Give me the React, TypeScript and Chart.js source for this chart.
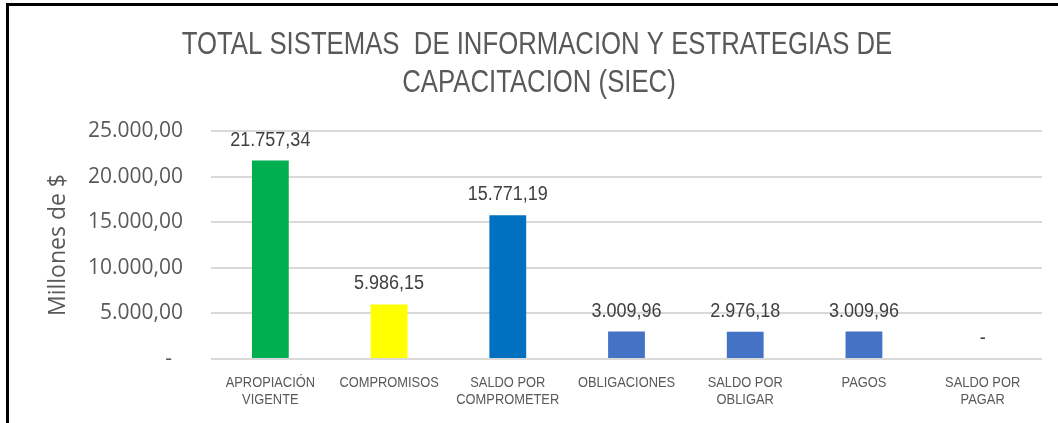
import React, { useEffect, useRef } from "react";
import { Chart, registerables } from "chart.js";

Chart.register(...registerables);

const titleLines = ["TOTAL SISTEMAS  DE INFORMACION Y ESTRATEGIAS DE", "CAPACITACION (SIEC)"];
const categories = [
  ["APROPIACIÓN", "VIGENTE"],
  ["COMPROMISOS"],
  ["SALDO POR", "COMPROMETER"],
  ["OBLIGACIONES"],
  ["SALDO POR", "OBLIGAR"],
  ["PAGOS"],
  ["SALDO POR", "PAGAR"],
];
const values = [21757.34, 5986.15, 15771.19, 3009.96, 2976.18, 3009.96, 0];
const barColors = ["#00B050", "#FFFF00", "#0070C0", "#4472C4", "#4472C4", "#4472C4", "#4472C4"];
const yAxisTitle = "Millones de $";
const yMax = 25000;
const yStep = 5000;

const SANS = "'Liberation Sans', Arial, sans-serif";
const TEXT = "#595959";

function fmt(v: number): string {
  const fixed = Math.abs(v).toFixed(2);
  const [intPart, dec] = fixed.split(".");
  const withDots = intPart.replace(/\B(?=(\d{3})+(?!\d))/g, ".");
  return (v < 0 ? "-" : "") + withDots + "," + dec;
}

function narrowText(ctx: CanvasRenderingContext2D, text: string, x: number, y: number, k: number) {
  ctx.save();
  ctx.translate(x, y);
  ctx.scale(k, 1);
  ctx.fillText(text, 0, 0);
  ctx.restore();
}

const framePlugin = {
  id: "frame",
  beforeDraw(chart: any) {
    const { ctx, width, height } = chart;
    ctx.save();
    ctx.fillStyle = "#ffffff";
    ctx.fillRect(0, 0, width, height);
    ctx.fillStyle = "#000000";
    ctx.fillRect(6, 3, width - 6, 3);
    ctx.fillRect(6, 3, 3, height - 3);
    ctx.restore();
  },
};

const textPlugin = {
  id: "texts",
  afterDatasetsDraw(chart: any) {
    const { ctx } = chart;
    ctx.save();
    // title
    ctx.fillStyle = TEXT;
    ctx.textAlign = "center";
    ctx.textBaseline = "alphabetic";
    ctx.font = `31px ${SANS}`;
    narrowText(ctx, titleLines[0], 537, 54, 0.83);
    narrowText(ctx, titleLines[1], 539, 92, 0.83);

    // category labels
    const xs = chart.scales.x;
    ctx.font = `15.5px ${SANS}`;
    ctx.textBaseline = "middle";
    categories.forEach((lines, i) => {
      const x = xs.getPixelForTick(i);
      lines.forEach((line, j) => {
        narrowText(ctx, line, x, xs.top + 24 + j * 16.5, 0.83);
      });
    });

    // data labels
    const meta = chart.getDatasetMeta(0);
    ctx.font = `20px ${SANS}`;
    ctx.fillStyle = "#404040";
    ctx.textBaseline = "alphabetic";
    meta.data.forEach((bar: any, i: number) => {
      const v = values[i];
      const label = v === 0 ? "-" : fmt(v);
      narrowText(ctx, label, bar.x, bar.y - 15, 0.9);
    });
    ctx.restore();
  },
};

export default function App() {
  const canvasRef = useRef<HTMLCanvasElement | null>(null);

  useEffect(() => {
    document.body.style.margin = "0";
    const canvas = canvasRef.current;
    if (!canvas) return;
    const chart = new Chart(canvas, {
      type: "bar",
      data: {
        labels: categories,
        datasets: [
          {
            data: values,
            backgroundColor: barColors,
            borderWidth: 0,
            barPercentage: 0.31,
            categoryPercentage: 1,
          },
        ],
      },
      options: {
        responsive: false,
        animation: false,
        devicePixelRatio: 1,
        layout: { padding: { left: 10, right: 16, top: 131, bottom: 0 } },
        plugins: {
          legend: { display: false },
          tooltip: { enabled: false },
          title: { display: false },
        },
        scales: {
          x: {
            grid: { display: false, drawTicks: false },
            border: { display: false },
            ticks: { display: false },
            afterFit(scale: any) {
              scale.height = 64;
            },
          },
          y: {
            min: 0,
            max: yMax,
            grid: { color: "#d9d9d9", lineWidth: 2, drawTicks: false },
            border: { display: false },
            ticks: {
              stepSize: yStep,
              color: TEXT,
              font: { family: "'Open Sans', sans-serif", size: 21 },
              padding: 28,
              callback: (v: any) => (Number(v) === 0 ? "-  " : fmt(Number(v))),
            },
            title: {
              display: true,
              text: yAxisTitle,
              color: TEXT,
              font: { family: "'Open Sans', sans-serif", size: 23 },
              padding: { top: 35, bottom: 0 },
            },
            afterFit(scale: any) {
              scale.width = 201;
            },
          },
        },
      },
      plugins: [framePlugin, textPlugin],
    });
    return () => chart.destroy();
  }, []);

  return (
    <div style={{ width: 1058, height: 423 }}>
      <canvas ref={canvasRef} width={1058} height={423} style={{ width: 1058, height: 423, display: "block" }} />
    </div>
  );
}
